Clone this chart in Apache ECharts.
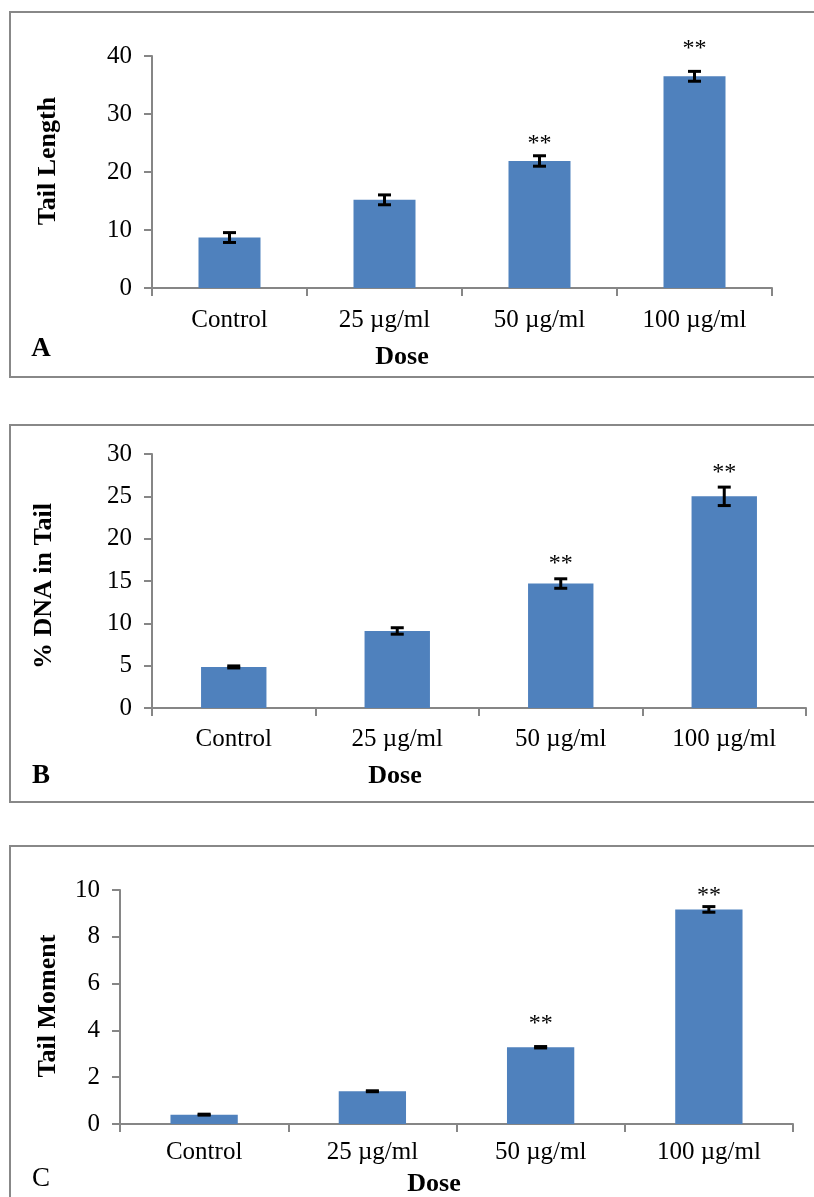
<!DOCTYPE html>
<html>
<head>
<meta charset="utf-8">
<script src="https://cdn.jsdelivr.net/npm/echarts@6/dist/echarts.min.js"></script>
<style>
html,body{margin:0;padding:0;background:#fff;}
#chart{width:814px;height:1197px;}
</style>
</head>
<body>
<div id="chart"></div>
<script>
// ---- data ----
const categories = ['Control', '25 µg/ml', '50 µg/ml', '100 µg/ml'];

const tailLength = [8.7, 15.2, 21.9, 36.5];
const tailLengthErr = [0.85, 0.85, 0.9, 0.85];
const tailLengthStars = [null, null, 25.9, 42.3];

const dnaInTail = [4.85, 9.1, 14.7, 25.0];
const dnaInTailErr = [0.12, 0.38, 0.56, 1.09];
const dnaInTailStars = [null, null, 17.7, 28.5];

const tailMoment = [0.40, 1.40, 3.28, 9.17];
const tailMomentErr = [0.02, 0.02, 0.03, 0.12];
const tailMomentStars = [null, null, 4.54, 10.03];

const yTicksA = { min: 0, max: 40, interval: 10 };
const yTicksB = { min: 0, max: 30, interval: 5 };
const yTicksC = { min: 0, max: 10, interval: 2 };

const starText = '**';

// ---- styles ----
const FONT = '"Liberation Serif", "Times New Roman", serif';
const AXIS_COLOR = '#868686';
const BAR_COLOR = '#4F81BD';

const chart = echarts.init(document.getElementById('chart'), null, { renderer: 'canvas' });

function xAxisCfg(gridIndex, margin) {
  return {
    type: 'category', gridIndex, data: categories,
    axisLine: { show: true, lineStyle: { color: AXIS_COLOR, width: 2 } },
    axisTick: { show: true, length: 8, lineStyle: { color: AXIS_COLOR, width: 2 } },
    axisLabel: { color: '#000', fontFamily: FONT, fontSize: 25, margin, interval: 0 },
    splitLine: { show: false }
  };
}
function yAxisCfg(gridIndex, ticks) {
  return {
    type: 'value', gridIndex, min: ticks.min, max: ticks.max, interval: ticks.interval,
    axisLine: { show: true, lineStyle: { color: AXIS_COLOR, width: 2 } },
    axisTick: { show: true, length: 8, lineStyle: { color: AXIS_COLOR, width: 2 } },
    axisLabel: { color: '#000', fontFamily: FONT, fontSize: 25, margin: 20 },
    splitLine: { show: false }
  };
}
function barSeries(idx, values) {
  return {
    type: 'bar', xAxisIndex: idx, yAxisIndex: idx, data: values,
    barWidth: '40%', itemStyle: { color: BAR_COLOR }, silent: true
  };
}
function errSeries(idx, values, errs) {
  return {
    type: 'custom', xAxisIndex: idx, yAxisIndex: idx,
    data: values.map((v, i) => [i, v, errs[i]]),
    encode: { x: 0, y: 1 }, silent: true, z: 5,
    renderItem: function (params, api) {
      const c = api.value(0), v = api.value(1), e = api.value(2);
      const hi = api.coord([c, v + e]);
      const lo = api.coord([c, v - e]);
      const hw = 6.5;
      const st = { stroke: '#000', lineWidth: 3 };
      return {
        type: 'group', children: [
          { type: 'line', shape: { x1: hi[0], y1: hi[1], x2: lo[0], y2: lo[1] }, style: st },
          { type: 'line', shape: { x1: hi[0] - hw, y1: hi[1], x2: hi[0] + hw, y2: hi[1] }, style: st },
          { type: 'line', shape: { x1: lo[0] - hw, y1: lo[1], x2: lo[0] + hw, y2: lo[1] }, style: st }
        ]
      };
    }
  };
}
function starSeries(idx, stars) {
  const d = [];
  stars.forEach((s, i) => { if (s !== null) d.push([i, s]); });
  return {
    type: 'custom', xAxisIndex: idx, yAxisIndex: idx, data: d,
    encode: { x: 0, y: 1 }, silent: true, clip: false, z: 6,
    renderItem: function (params, api) {
      const p = api.coord([api.value(0), api.value(1)]);
      return {
        type: 'text', x: p[0], y: p[1] + 6,
        style: { text: starText, fontFamily: FONT, fontSize: 24, fill: '#000', align: 'center', verticalAlign: 'middle' }
      };
    }
  };
}
function txt(text, x, y, opts) {
  return Object.assign({
    type: 'text', x, y,
    style: Object.assign({ text, fontFamily: FONT, fontSize: 25, fill: '#000', align: 'center', verticalAlign: 'middle' }, opts && opts.style)
  }, opts && opts.el);
}
function box(x, y, w, h) {
  return { type: 'rect', shape: { x, y, width: w, height: h }, style: { fill: 'none', stroke: '#888', lineWidth: 2 }, silent: true };
}

const option = {
  animation: false,
  backgroundColor: '#fff',
  grid: [
    { left: 152, right: 42, top: 56, height: 232 },
    { left: 152, right: 8, top: 454, height: 254 },
    { left: 120, right: 21, top: 890, height: 234 }
  ],
  xAxis: [xAxisCfg(0, 20), xAxisCfg(1, 19), xAxisCfg(2, 16)],
  yAxis: [yAxisCfg(0, yTicksA), yAxisCfg(1, yTicksB), yAxisCfg(2, yTicksC)],
  series: [
    barSeries(0, tailLength), errSeries(0, tailLength, tailLengthErr), starSeries(0, tailLengthStars),
    barSeries(1, dnaInTail), errSeries(1, dnaInTail, dnaInTailErr), starSeries(1, dnaInTailStars),
    barSeries(2, tailMoment), errSeries(2, tailMoment, tailMomentErr), starSeries(2, tailMomentStars)
  ],
  graphic: {
    elements: [
      box(10, 12, 820, 365),
      box(10, 425, 820, 377),
      box(10, 846, 820, 400),
      txt('Tail Length', 48, 161, { el: { rotation: Math.PI / 2 }, style: { fontWeight: 'bold', fontSize: 26 } }),
      txt('% DNA in Tail', 44, 586, { el: { rotation: Math.PI / 2 }, style: { fontWeight: 'bold', fontSize: 26 } }),
      txt('Tail Moment', 48, 1006, { el: { rotation: Math.PI / 2 }, style: { fontWeight: 'bold', fontSize: 26 } }),
      txt('Dose', 402, 357, { style: { fontWeight: 'bold', fontSize: 26 } }),
      txt('Dose', 395, 776, { style: { fontWeight: 'bold', fontSize: 26 } }),
      txt('Dose', 434, 1184, { style: { fontWeight: 'bold', fontSize: 26 } }),
      txt('A', 41, 349, { style: { fontWeight: 'bold', fontSize: 27 } }),
      txt('B', 41, 776, { style: { fontWeight: 'bold', fontSize: 27 } }),
      txt('C', 41, 1179, { style: { fontSize: 27 } })
    ]
  }
};
chart.setOption(option);
</script>
</body>
</html>
